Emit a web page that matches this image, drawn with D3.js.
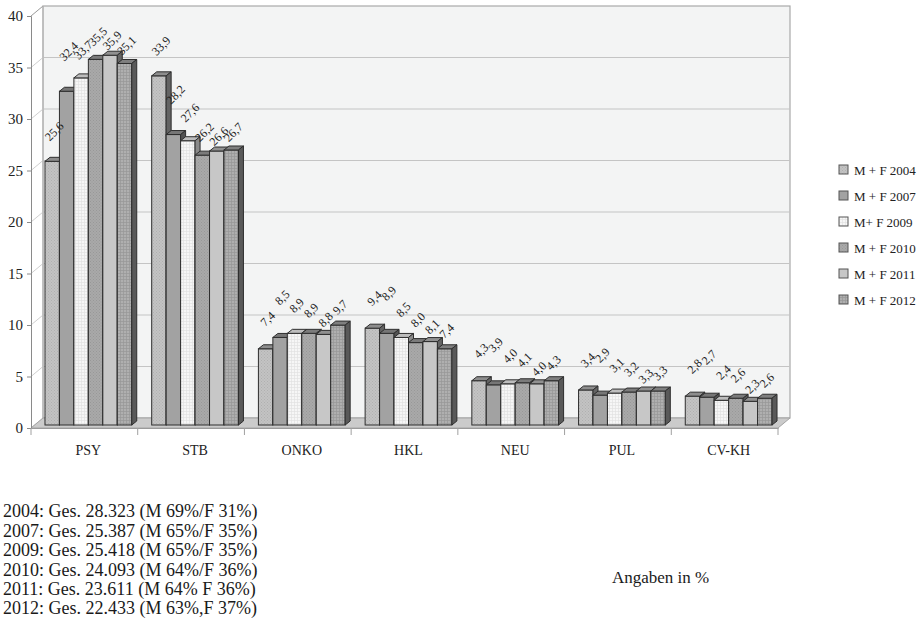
<!DOCTYPE html>
<html>
<head>
<meta charset="utf-8">
<script src="https://cdn.jsdelivr.net/npm/d3@7"></script>
<style>
  html, body { margin: 0; padding: 0; background: #fff; }
  svg { display: block; font-family: "Liberation Serif", "DejaVu Serif", serif; font-feature-settings: "onum"; }
</style>
</head>
<body>
<svg id="chart" width="921" height="623"></svg>
<script>
// Diagnosis groups
const categories = ["PSY", "STB", "ONKO", "HKL", "NEU", "PUL", "CV-KH"];
// Survey years shown as series
const seriesNames = ["M + F 2004", "M + F 2007", "M+ F 2009", "M + F 2010", "M + F 2011", "M + F 2012"];
// Share in percent, one array per year, in category order
const v2004 = [25.6, 33.9, 7.4, 9.4, 4.3, 3.4, 2.8];
const v2007 = [32.4, 28.2, 8.5, 8.9, 3.9, 2.9, 2.7];
const v2009 = [33.7, 27.6, 8.9, 8.5, 4.0, 3.1, 2.4];
const v2010 = [35.5, 26.2, 8.9, 8.0, 4.1, 3.2, 2.6];
const v2011 = [35.9, 26.6, 8.8, 8.1, 4.0, 3.3, 2.3];
const v2012 = [35.1, 26.7, 9.7, 7.4, 4.3, 3.3, 2.6];
const yTicks = [0, 5, 10, 15, 20, 25, 30, 35, 40];
// Totals per year
const notes = [
  "2004: Ges. 28.323 (M 69%/F 31%)",
  "2007: Ges. 25.387 (M 65%/F 35%)",
  "2009: Ges. 25.418 (M 65%/F 35%)",
  "2010: Ges. 24.093 (M 64%/F 36%)",
  "2011: Ges. 23.611 (M 64% F 36%)",
  "2012: Ges. 22.433 (M 63%,F 37%)"
];
const unitNote = "Angaben in %";

const seriesValues = [v2004, v2007, v2009, v2010, v2011, v2012];

const svg = d3.select("#chart");
const fmt = d3.formatLocale({decimal: ",", thousands: ".", grouping: [3], currency: ["", " €"]}).format(".1f");

// 3-D geometry: the floor / walls are offset up-right by `depth`
const depth = {dx: 12, dy: -10};
const barShift = {dx: 4, dy: -3};     // front face of the bars
const barDepth = {dx: 5, dy: -4};     // thickness of each bar
const x0 = d3.scaleBand().domain(categories).range([31, 778]);
const x1 = d3.scaleBand().domain(d3.range(seriesNames.length)).range([0, x0.bandwidth()]).paddingOuter(0.69);
const y = d3.scaleLinear().domain([0, 40]).range([428, 16]);

// fills (flat base colours with fine textures)
const fills = [
  {base: "#c3c3c3", kind: "dots", ink: "#b0b0b0"},
  {base: "#a2a2a2", kind: "plain"},
  {base: "#f6f6f6", kind: "grid", ink: "#e2e2e2"},
  {base: "#a9a9a9", kind: "dots", ink: "#989898"},
  {base: "#c7c7c7", kind: "plain"},
  {base: "#afafaf", kind: "grid", ink: "#979797"}
];
const defs = svg.append("defs");
fills.forEach((f, i) => {
  const p = defs.append("pattern").attr("id", "pat" + i)
    .attr("patternUnits", "userSpaceOnUse").attr("width", 3).attr("height", 3);
  p.append("rect").attr("width", 3).attr("height", 3).attr("fill", f.base);
  if (f.kind === "dots") {
    p.append("rect").attr("x", 0).attr("y", 0).attr("width", 1).attr("height", 1).attr("fill", f.ink);
    p.append("rect").attr("x", 1.5).attr("y", 1.5).attr("width", 1).attr("height", 1).attr("fill", f.ink);
  } else if (f.kind === "grid") {
    p.append("rect").attr("x", 0).attr("y", 0).attr("width", 3).attr("height", 0.7).attr("fill", f.ink);
    p.append("rect").attr("x", 0).attr("y", 0).attr("width", 0.7).attr("height", 3).attr("fill", f.ink);
  }
});

// back wall
const backTop = y(40) + depth.dy, backBottom = y(0) + depth.dy;
svg.append("rect")
  .attr("x", 31 + depth.dx).attr("y", backTop)
  .attr("width", 778 - 31).attr("height", backBottom - backTop)
  .attr("fill", "#f3f4f4").attr("stroke", "#a9a9a9").attr("stroke-width", 1.2);

// gridlines on back wall and side wall
yTicks.forEach(t => {
  const yy = y(t);
  if (t > 0 && t < 40) {
    svg.append("line").attr("x1", 31 + depth.dx).attr("x2", 778 + depth.dx)
      .attr("y1", yy + depth.dy).attr("y2", yy + depth.dy)
      .attr("stroke", "#c4c4c4").attr("stroke-width", 1.2);
  }
  svg.append("line").attr("x1", 31).attr("x2", 31 + depth.dx)
    .attr("y1", yy).attr("y2", yy + depth.dy)
    .attr("stroke", t === 40 ? "#9a9a9a" : "#cfcfcf").attr("stroke-width", 1);
});
// side wall back edge
svg.append("line").attr("x1", 31 + depth.dx).attr("x2", 31 + depth.dx)
  .attr("y1", backTop).attr("y2", backBottom).attr("stroke", "#b5b5b5");

// floor
svg.append("polygon")
  .attr("points", [[31, y(0)], [778, y(0)], [778 + depth.dx, y(0) + depth.dy], [31 + depth.dx, y(0) + depth.dy]].map(p => p.join(",")).join(" "))
  .attr("fill", "#cbcbcb").attr("stroke", "#a4a4a4").attr("stroke-width", 1);

// y axis
const yAxis = d3.axisLeft(y).tickValues(yTicks).tickSize(4).tickPadding(4).tickFormat(d3.format("d"));
const gy = svg.append("g").attr("transform", "translate(31,0)").call(yAxis);
gy.select(".domain").attr("stroke", "#8a8a8a");
gy.selectAll(".tick line").attr("stroke", "#8a8a8a");
gy.selectAll(".tick text").attr("font-size", 15).attr("fill", "#222")
  .attr("font-family", "Liberation Serif, serif");

// x axis
const xAxis = d3.axisBottom(x0).tickSize(0).tickPadding(17);
const gx = svg.append("g").attr("transform", `translate(0,${y(0)})`).call(xAxis);
gx.select(".domain").attr("stroke", "#9a9a9a");
gx.selectAll(".tick text").attr("font-size", 14).attr("fill", "#222")
  .attr("font-family", "Liberation Serif, serif")
  .attr("dx", 4);
// category separators
categories.concat([null]).forEach((c, i) => {
  const xx = c === null ? x0.range()[1] : x0(c);
  svg.append("line").attr("x1", xx).attr("x2", xx).attr("y1", y(0)).attr("y2", y(0) + 7)
    .attr("stroke", "#a0a0a0");
});

// bars
const bars = svg.append("g");
categories.forEach((c, ci) => {
  seriesValues.forEach((vals, si) => {
    const v = vals[ci];
    const xl = x0(c) + x1(si) + barShift.dx;
    const w = x1.bandwidth();
    const yt = y(v) + barShift.dy;
    const yb = y(0) + barShift.dy;
    const base = d3.color(fills[si].base);
    const g = bars.append("g");
    // front face
    g.append("rect").attr("x", xl).attr("y", yt).attr("width", w).attr("height", yb - yt)
      .attr("fill", `url(#pat${si})`).attr("stroke", "#2e2e2e").attr("stroke-width", 1);
    // top face
    g.append("polygon")
      .attr("points", [[xl, yt], [xl + barDepth.dx, yt + barDepth.dy], [xl + w + barDepth.dx, yt + barDepth.dy], [xl + w, yt]].map(p => p.join(",")).join(" "))
      .attr("fill", si === 2 ? "#bdbdbd" : base.darker(0.9)).attr("stroke", "#2e2e2e").attr("stroke-width", 1);
    // side face
    g.append("polygon")
      .attr("points", [[xl + w, yt], [xl + w + barDepth.dx, yt + barDepth.dy], [xl + w + barDepth.dx, yb + barDepth.dy], [xl + w, yb]].map(p => p.join(",")).join(" "))
      .attr("fill", si === 2 ? "#8a8a8a" : base.darker(1.9)).attr("stroke", "#2e2e2e").attr("stroke-width", 1);
  });
});

// value labels, rotated; each year's labels sit at their own height above the bars
const labelLift = [30, 40, 28, 23, 15, 18];
const labels = svg.append("g");
categories.forEach((c, ci) => {
  seriesValues.forEach((vals, si) => {
    const v = vals[ci];
    const cx = x0(c) + x1(si) + barShift.dx + x1.bandwidth() / 2 + 2;
    const cy = y(v) + barShift.dy - labelLift[si];
    labels.append("text")
      .attr("transform", `translate(${cx},${cy}) rotate(-45)`)
      .attr("text-anchor", "middle").attr("dy", "0.35em")
      .attr("font-size", 12).attr("fill", "#222")
      .text(fmt(v));
  });
});

// legend
const legend = svg.append("g").attr("transform", "translate(839,170)");
seriesNames.forEach((n, i) => {
  const row = legend.append("g").attr("transform", `translate(0,${i * 26})`);
  row.append("rect").attr("x", 0).attr("y", -5).attr("width", 9).attr("height", 9)
    .attr("fill", `url(#pat${i})`).attr("stroke", "#555").attr("stroke-width", 1);
  row.append("text").attr("x", 15).attr("dy", "0.35em")
    .attr("font-size", 13).attr("fill", "#222").text(n);
});

// totals block
const noteG = svg.append("g").attr("transform", "translate(3,511)");
notes.forEach((t, i) => {
  noteG.append("text").attr("y", i * 19.4).attr("dy", "0.35em")
    .attr("font-size", 18).attr("fill", "#1a1a1a").text(t);
});

svg.append("text").attr("x", 612).attr("y", 577).attr("dy", "0.35em")
  .attr("font-size", 17).attr("fill", "#1a1a1a").text(unitNote);
</script>
</body>
</html>
